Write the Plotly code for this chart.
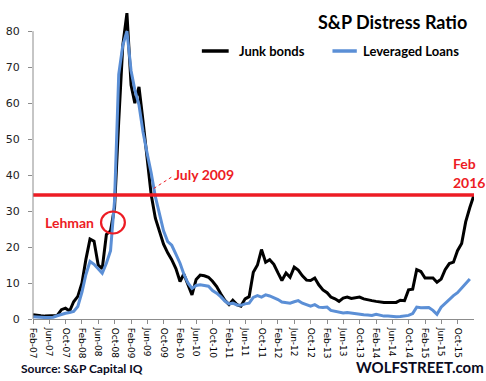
import pandas as pd
import plotly.graph_objects as go

# ---- data (monthly, Feb-2007 .. Feb-2016) ----
start_month = "2007-02-01"
junk_bonds = [
    1.2, 1.0, 0.9, 0.8, 0.8, 0.8, 1.0, 2.6, 3.0, 2.2,
    4.8, 6.3, 10.0, 16.5, 22.2, 21.6, 15.0, 14.0, 23.5, 24.5,
    31.0, 55.0, 76.0, 85.0, 65.0, 60.0, 64.5, 55.0, 44.0, 34.5,
    28.0, 24.5, 20.8, 18.4, 16.5, 14.0, 10.4, 12.5, 9.5, 6.7,
    11.0, 12.2, 12.0, 11.6, 10.5, 9.0, 7.0, 5.2, 4.0, 5.2,
    4.0, 3.6, 5.6, 6.2, 13.0, 15.0, 19.3, 15.8, 16.5, 15.2,
    12.8, 10.7, 12.8, 11.6, 14.4, 13.6, 12.0, 10.8, 10.7, 11.4,
    9.5, 8.1, 7.3, 6.1, 5.6, 4.9, 5.8, 6.1, 5.7, 5.8,
    6.1, 5.6, 5.3, 5.1, 4.9, 4.7, 4.6, 4.6, 4.6, 4.6,
    5.2, 5.1, 8.1, 8.3, 13.7, 13.2, 11.4, 11.4, 11.4, 10.2,
    11.1, 13.7, 15.4, 15.8, 19.0, 21.0, 27.0, 31.0, 34.5,
]
leveraged_loans = [
    0.6, 0.5, 0.4, 0.4, 0.4, 0.5, 0.9, 1.3, 1.6, 1.8,
    2.1, 3.5, 7.5, 12.3, 16.0, 15.2, 13.8, 12.7, 15.5, 19.0,
    33.0, 68.0, 76.0, 80.0, 69.0, 63.7, 59.5, 52.0, 46.0, 40.6,
    34.0, 29.4, 24.5, 21.5, 20.5, 18.0, 15.5, 12.5, 10.0, 8.5,
    9.3, 9.5, 9.3, 9.1, 7.9, 7.2, 6.2, 5.0, 4.2, 4.4,
    3.9, 3.8, 4.2, 4.4, 6.0, 6.5, 6.1, 6.7, 6.4, 6.0,
    5.4, 4.7, 4.5, 4.4, 4.8, 5.1, 4.4, 4.1, 3.6, 4.0,
    3.3, 3.2, 3.3, 2.4, 2.1, 1.9, 1.7, 1.8, 1.6, 1.5,
    1.3, 1.2, 1.1, 1.0, 1.3, 1.0, 0.8, 0.8, 0.6, 0.6,
    0.7, 0.8, 1.0, 1.5, 3.3, 3.1, 3.1, 3.2, 2.4, 1.3,
    3.3, 4.4, 5.6, 6.5, 7.3, 8.6, 9.8, 11.1,
]
threshold = 34.5
y_ticks = [0, 10, 20, 30, 40, 50, 60, 70, 80]

months = pd.date_range(start=start_month, periods=len(junk_bonds), freq="MS")
x_tick_vals = list(months[:-1:4])
x_tick_text = [d.strftime("%b-%y") for d in x_tick_vals]

# ---- layout geometry ----
W, H = 486, 381
L, R, T, B = 30, 12, 6, 62
PW, PH = W - L - R, H - T - B


def px(x):
    return (x - L) / PW


def py(y):
    return (H - B - y) / PH


RED = "#ED1C24"
BLACK = "#000000"
BLUE = "#5B8FD6"
FONT = "Lato"

fig = go.Figure()
fig.add_trace(go.Scatter(x=months, y=junk_bonds, mode="lines", name="Junk bonds",
                         line=dict(color=BLACK, width=3)))
fig.add_trace(go.Scatter(x=months[:len(leveraged_loans)], y=leveraged_loans, mode="lines",
                         name="Leveraged Loans", line=dict(color=BLUE, width=3)))

shapes = [
    # red threshold line
    dict(type="line", xref="paper", yref="y", x0=0, x1=1, y0=threshold, y1=threshold,
         line=dict(color=RED, width=3.5), layer="above"),
    # y axis line (only up to 80)
    dict(type="line", xref="paper", yref="y", x0=0, x1=0, y0=0, y1=80,
         line=dict(color="#8C8C8C", width=1)),
    # Lehman ellipse
    dict(type="circle", xref="paper", yref="paper",
         x0=px(98.5), x1=px(122.5), y0=py(233.5), y1=py(211.5),
         line=dict(color=RED, width=2.2), layer="above"),
    # July 2009 leader line
    dict(type="line", xref="paper", yref="paper",
         x0=px(151.5), x1=px(172), y0=py(188.5), y1=py(175.5),
         line=dict(color=RED, width=1, dash="dot"), layer="above"),
    # legend samples
    dict(type="line", xref="paper", yref="paper", x0=px(200), x1=px(227), y0=py(51), y1=py(51),
         line=dict(color=BLACK, width=3.5)),
    dict(type="line", xref="paper", yref="paper", x0=px(331.5), x1=px(356), y0=py(51), y1=py(51),
         line=dict(color=BLUE, width=3.5)),
]


def ann(text, x, y, size, color, xanchor="center"):
    return dict(text=text, xref="paper", yref="paper", x=px(x), y=py(y),
                xanchor=xanchor, yanchor="middle", showarrow=False,
                font=dict(family=FONT, size=size, color=color, weight="bold"))


annotations = [
    ann("S&amp;P Distress Ratio", 392, 22, 18, "#000000"),
    ann("Junk bonds", 235, 51, 13, "#000000", "left"),
    ann("Leveraged Loans", 360, 51, 13, "#000000", "left"),
    ann("July 2009", 202.5, 174, 14, RED),
    ann("Lehman", 66.5, 222.5, 14, RED),
    ann("Feb", 451, 163, 14, RED, "left"),
    ann("2016", 451, 182, 14, RED, "left"),
    ann("Source: S&amp;P Capital IQ", 79.5, 368.5, 12, "#0A0A1E"),
    ann("WOLFSTREET.com", 420, 367, 15, "#0A0A1E"),
]

fig.update_layout(
    width=W, height=H,
    margin=dict(l=L, r=R, t=T, b=B, pad=0),
    paper_bgcolor="white", plot_bgcolor="white",
    showlegend=False,
    shapes=shapes,
    annotations=annotations,
    xaxis=dict(
        type="date",
        range=[months[0], months[-1]],
        tickmode="array", tickvals=x_tick_vals, ticktext=x_tick_text,
        tickangle=90,
        ticks="outside", ticklen=4, tickcolor="#8C8C8C",
        showline=True, linecolor="#8C8C8C", linewidth=1,
        showgrid=False, zeroline=False,
        ticklabelstandoff=2,
        tickfont=dict(family="DejaVu Sans", size=9, color="#000000"),
    ),
    yaxis=dict(
        range=[0, 87],
        tickmode="array", tickvals=y_ticks,
        ticks="outside", ticklen=4, tickcolor="#8C8C8C",
        showline=False, showgrid=False, zeroline=False,
        ticklabelstandoff=6,
        tickfont=dict(family="DejaVu Sans", size=11, color="#222222"),
    ),
)

fig.write_html(
    "out.html",
    config={"displayModeBar": False},
    post_script="document.body.style.margin='0';document.body.style.padding='0';",
)
